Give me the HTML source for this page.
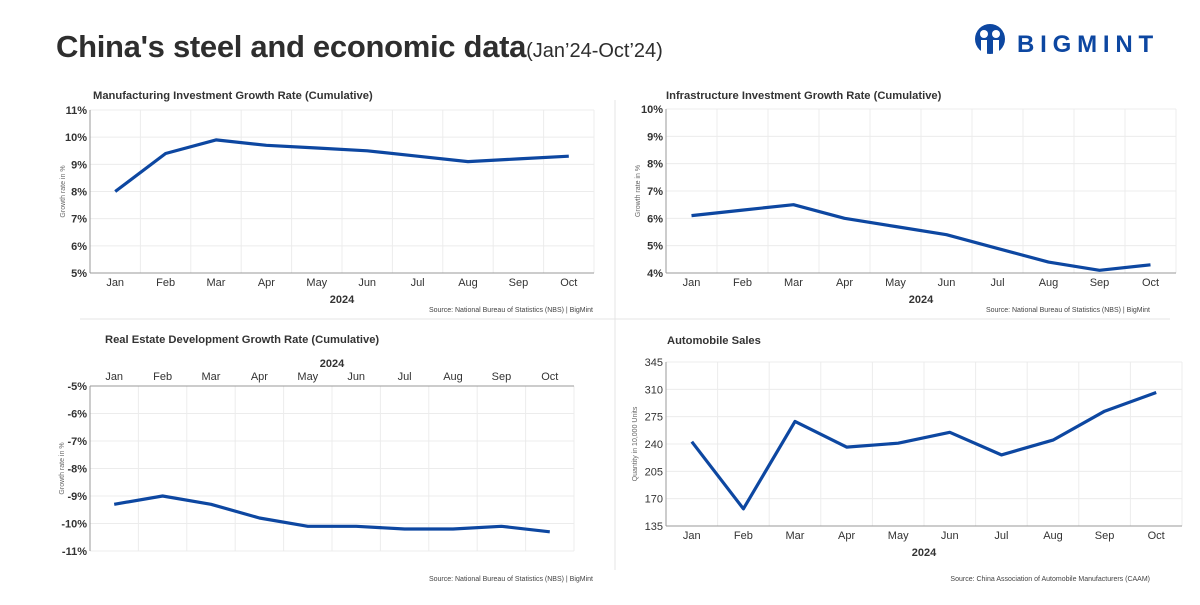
<!DOCTYPE html>
<html><head><meta charset="utf-8">
<style>
html,body{margin:0;padding:0;background:#fff;}
body{width:1200px;height:600px;overflow:hidden;font-family:"Liberation Sans",sans-serif;}
</style></head>
<body>
<svg id="root" width="1200" height="600" xmlns="http://www.w3.org/2000/svg" font-family="Liberation Sans, sans-serif">
  <text x="56" y="57" font-size="31" font-weight="bold" fill="#2e2e2e" letter-spacing="-0.3">China's steel and economic data<tspan font-size="20" font-weight="normal" letter-spacing="0">(Jan’24-Oct’24)</tspan></text>
  <g>
    <circle cx="990" cy="39" r="15" fill="#0d47a1"/>
    <circle cx="984" cy="34" r="4" fill="#fff"/>
    <circle cx="996" cy="34" r="4" fill="#fff"/>
    <rect x="981" y="40" width="6" height="14" fill="#fff"/>
    <rect x="993" y="40" width="6" height="14" fill="#fff"/>
    <text x="1017" y="52" font-size="24" font-weight="bold" fill="#0d47a1" letter-spacing="5.8">BIGMINT</text>
  </g>
  <line x1="615" y1="100" x2="615" y2="570" stroke="#e4e4e4"/>
  <line x1="80" y1="319" x2="1170" y2="319" stroke="#e4e4e4"/>
  <g id="charts"></g>
</svg>
<script>
const months = ["Jan","Feb","Mar","Apr","May","Jun","Jul","Aug","Sep","Oct"];
const mfgValues = [8.0,9.4,9.9,9.7,9.6,9.5,9.3,9.1,9.2,9.3];
const mfgTicks = [5,6,7,8,9,10,11];
const infraValues = [6.1,6.3,6.5,6.0,5.7,5.4,4.9,4.4,4.1,4.3];
const infraTicks = [4,5,6,7,8,9,10];
const realEstateValues = [-9.3,-9.0,-9.3,-9.8,-10.1,-10.1,-10.2,-10.2,-10.1,-10.3];
const realEstateTicks = [-11,-10,-9,-8,-7,-6,-5];
const autoValues = [243,157,269,236,241,255,226,245,282,306];
const autoTicks = [135,170,205,240,275,310,345];

const NS = "http://www.w3.org/2000/svg";
const root = document.getElementById("charts");
function el(tag, attrs, parent, text){
  const e = document.createElementNS(NS, tag);
  for (const k in attrs) e.setAttribute(k, attrs[k]);
  if (text !== undefined) e.textContent = text;
  parent.appendChild(e);
  return e;
}

function chart(cfg, values, ticks){
  const g = el("g", {}, root);
  
  
  const {l, r, t, b} = cfg;
  const min = ticks[0], max = ticks[ticks.length-1];
  const y = v => b - (v - min) / (max - min) * (b - t);
  const bw = (r - l) / months.length;
  const x = i => l + bw * (i + 0.5);
  const title = el("text", {x: cfg.tx, y: cfg.ty, "font-size": 11.2, "font-weight": "bold", fill: "#333"}, g, cfg.title);
  
  
  ticks.forEach(v => {
    const ln = el("line", {x1: l, x2: r, y1: y(v), y2: y(v), stroke: "#ececec"}, g);
    
    
    const lb = el("text", {x: l - 3, y: y(v) + 4, "font-size": 11, "font-weight": cfg.boldTicks ? "bold" : "normal", fill: "#333", "text-anchor": "end"}, g, ticks === autoTicks ? String(v) : v + "%");
    
    
  });
  for (let i = 1; i <= months.length; i++){
    const ln = el("line", {x1: l + bw*i, x2: l + bw*i, y1: t, y2: b, stroke: "#ececec"}, g);
    
    
  }
  const axY = cfg.top ? t : b;
  const ax = el("line", {x1: l, x2: r, y1: axY, y2: axY, stroke: "#999"}, g);
  
  
  const ay = el("line", {x1: l, x2: l, y1: t, y2: b, stroke: "#999"}, g);
  
  
  months.forEach((m, i) => {
    const ly = cfg.top ? t - 6 : b + 13;
    const lb = el("text", {x: x(i), y: ly, "font-size": 11, fill: "#333", "text-anchor": "middle"}, g, m);
    
    
  });
  const yr = el("text", {x: (l + r)/2, y: cfg.top ? t - 19 : b + 30, "font-size": 11, "font-weight": "bold", fill: "#333", "text-anchor": "middle"}, g, "2024");
  
  
  const cy = (t + b)/2;
  const yt = el("text", {x: cfg.ytx, y: cy, "font-size": 7, fill: "#666", "text-anchor": "middle", transform: `rotate(-90 ${cfg.ytx} ${cy})`}, g, cfg.ytitle);
  
  
  const pts = values.map((v, i) => x(i).toFixed(1) + "," + y(v).toFixed(1)).join(" ");
  const line = el("polyline", {points: pts, fill: "none", stroke: "#0d47a1", "stroke-width": 3.2, "stroke-linejoin": "round"}, g);
  
  
  const src = el("text", {x: cfg.sx, y: cfg.sy, "font-size": 7, fill: "#444", "text-anchor": "end"}, g, cfg.source);
  
  
}

chart({name: "manufacturing-investment-chart", title: "Manufacturing Investment Growth Rate (Cumulative)", tx: 93, ty: 99,
  l: 90, r: 594, t: 110, b: 273, boldTicks: true, ytx: 65, ytitle: "Growth rate in %",
  sx: 593, sy: 312, source: "Source: National Bureau of Statistics (NBS) | BigMint"}, mfgValues, mfgTicks);
chart({name: "infrastructure-investment-chart", title: "Infrastructure Investment Growth Rate (Cumulative)", tx: 666, ty: 99,
  l: 666, r: 1176, t: 109, b: 273, boldTicks: true, ytx: 640, ytitle: "Growth rate in %",
  sx: 1150, sy: 312, source: "Source: National Bureau of Statistics (NBS) | BigMint"}, infraValues, infraTicks);
chart({name: "real-estate-development-chart", title: "Real Estate Development Growth Rate (Cumulative)", tx: 105, ty: 343,
  l: 90, r: 574, t: 386, b: 551, top: true, boldTicks: true, ytx: 64, ytitle: "Growth rate in %",
  sx: 593, sy: 581, source: "Source: National Bureau of Statistics (NBS) | BigMint"}, realEstateValues, realEstateTicks);
chart({name: "automobile-sales-chart", title: "Automobile Sales", tx: 667, ty: 344,
  l: 666, r: 1182, t: 362, b: 526, boldTicks: false, ytx: 637, ytitle: "Quantity in 10,000 Units",
  sx: 1150, sy: 581, source: "Source: China Association of Automobile Manufacturers (CAAM)"}, autoValues, autoTicks);
</script>
</body></html>
